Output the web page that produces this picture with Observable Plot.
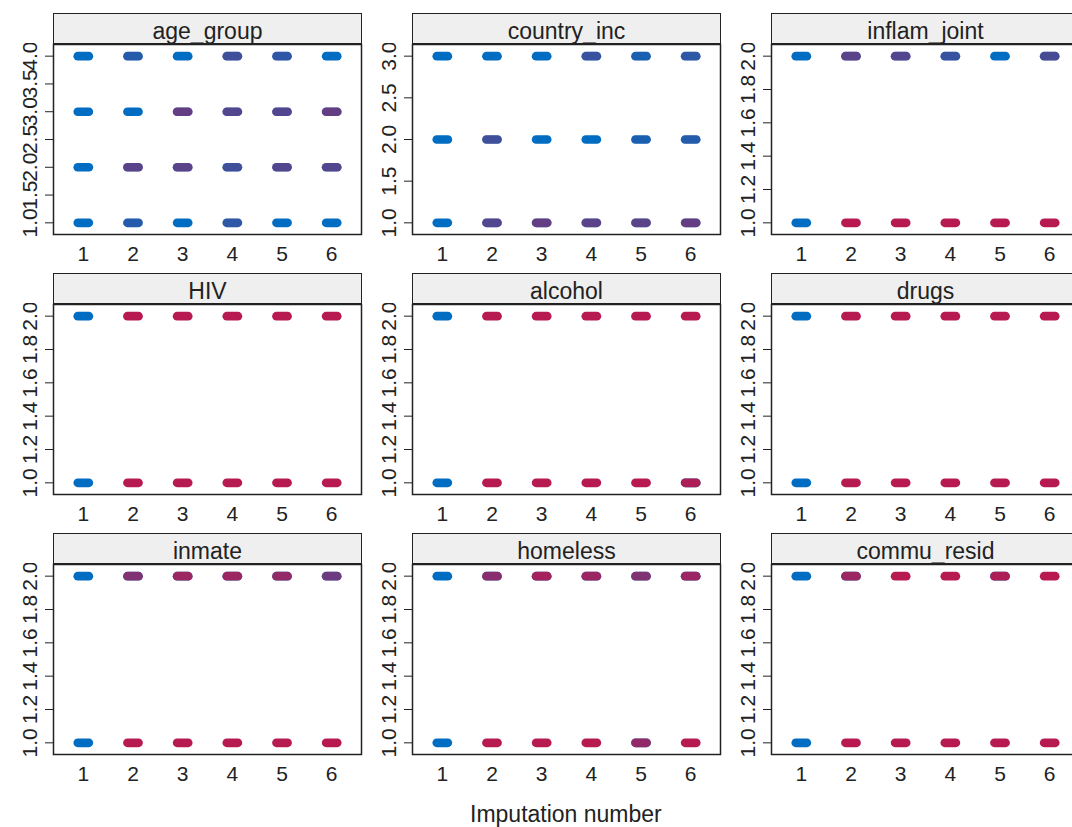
<!DOCTYPE html>
<html>
<head>
<meta charset="utf-8">
<script src="https://cdn.jsdelivr.net/npm/d3@7"></script>
<script src="https://cdn.jsdelivr.net/npm/@observablehq/plot@0.6"></script>
<style>
  html, body { margin: 0; padding: 0; background: #fff; }
  #root { position: relative; width: 1072px; height: 827px; overflow: hidden; font-family: "Liberation Sans", Arial, sans-serif; }
  .strip { position: absolute; box-sizing: border-box; background: #efefef; border: 1.5px solid #222; overflow: hidden; text-align: center; color: #222; font-size: 23px; line-height: 35px; white-space: nowrap; }
  .panel { position: absolute; }
  .panel svg { max-width: none !important; }
  .xtitle { position: absolute; color: #222; font-size: 23px; white-space: nowrap; }
</style>
</head>
<body>
<div id="root"></div>
<script>
// ---- data ----
const variables = ["age_group", "country_inc", "inflam_joint", "HIV", "alcohol", "drugs", "inmate", "homeless", "commu_resid"];
const imputations = [1, 2, 3, 4, 5, 6];

const ageLevels = [1, 2, 3, 4];
const countryLevels = [1, 2, 3];
const binaryLevels = [1, 2];

const ageTicks = [1.0, 1.5, 2.0, 2.5, 3.0, 3.5, 4.0];
const countryTicks = [1.0, 1.5, 2.0, 2.5, 3.0];
const binaryTicks = [1.0, 1.2, 1.4, 1.6, 1.8, 2.0];

// share of imputed (red) points covering each strip, per level (rows) and imputation number (columns)
const ageGroupRed    = [[0, 0.2, 0, 0.25, 0, 0], [0, 0.5, 0.5, 0.35, 0.45, 0.45], [0, 0, 0.55, 0.45, 0.45, 0.55], [0, 0.2, 0, 0.35, 0.25, 0]];
const countryIncRed  = [[0, 0.45, 0.55, 0.5, 0.5, 0.55], [0, 0.35, 0, 0, 0.15, 0.2], [0, 0, 0, 0.3, 0.15, 0.25]];
const inflamJointRed = [[0, 1, 1, 1, 1, 1], [0, 0.5, 0.45, 0.3, 0, 0.4]];
const hivRed         = [[0, 1, 1, 1, 1, 1], [0, 1, 1, 1, 1, 1]];
const alcoholRed     = [[0, 1, 1, 1, 1, 0.95], [0, 1, 1, 1, 1, 1]];
const drugsRed       = [[0, 1, 1, 1, 1, 1], [0, 1, 1, 1, 1, 1]];
const inmateRed      = [[0, 1, 1, 1, 1, 1], [0, 0.7, 0.85, 0.85, 0.8, 0.6]];
const homelessRed    = [[0, 1, 1, 1, 0.8, 1], [0, 0.75, 0.9, 0.85, 0.7, 0.85]];
const communResidRed = [[0, 1, 1, 1, 1, 1], [0, 0.85, 1, 1, 0.95, 1]];

const panelLevels = [ageLevels, countryLevels, binaryLevels, binaryLevels, binaryLevels, binaryLevels, binaryLevels, binaryLevels, binaryLevels];
const panelTicks = [ageTicks, countryTicks, binaryTicks, binaryTicks, binaryTicks, binaryTicks, binaryTicks, binaryTicks, binaryTicks];
const panelRed = [ageGroupRed, countryIncRed, inflamJointRed, hivRed, alcoholRed, drugsRed, inmateRed, homelessRed, communResidRed];

const blue = "#006CC2";
const red = "#B61A51";

// ---- layout ----
const colLeft = [53, 412, 771];
const rowTop = [13, 273, 533];
const panelW = 308, stripH = 30, plotH = 190, mLeft = 53, mBottom = 45;

// pill-shaped symbol (horizontally jittered strip of points)
const pill = {
  draw(ctx, size) {
    const r = Math.sqrt(size / Math.PI);
    const a = r * 1.3;
    ctx.moveTo(-a, -r);
    ctx.lineTo(a, -r);
    ctx.arc(a, 0, r, -Math.PI / 2, Math.PI / 2);
    ctx.lineTo(-a, r);
    ctx.arc(-a, 0, r, Math.PI / 2, 3 * Math.PI / 2);
    ctx.closePath();
  }
};

const root = document.getElementById("root");

variables.forEach((name, i) => {
  const r = Math.floor(i / 3), c = i % 3;
  const left = colLeft[c], top = rowTop[r];
  const levels = panelLevels[i];
  const ticks = panelTicks[i];
  const reds = panelRed[i];
  const lo = d3.min(levels), hi = d3.max(levels);
  const pad = (hi - lo) * 0.07;

  const rows = [];
  levels.forEach((lv, li) => {
    imputations.forEach((imp, k) => rows.push({imp, value: lv, share: reds[li][k]}));
  });

  const strip = document.createElement("div");
  strip.className = "strip";
  strip.style.left = left + "px";
  strip.style.top = top + "px";
  strip.style.width = (panelW + 1) + "px";
  strip.style.height = (stripH + 1) + "px";
  strip.textContent = name;
  root.appendChild(strip);

  const W = mLeft + panelW + 2;
  const chart = Plot.plot({
    width: W,
    height: plotH + 1 + mBottom,
    marginLeft: mLeft,
    marginRight: 2,
    marginTop: 1,
    marginBottom: mBottom,
    style: {fontFamily: "Liberation Sans, Arial, sans-serif", color: "#222", background: "transparent", maxWidth: "none"},
    x: {domain: [0.4, 6.6]},
    y: {domain: [lo - pad, hi + pad]},
    marks: [
      Plot.axisX({ticks: imputations, tickFormat: d3.format("d"), tickSize: 0, tickPadding: 12, fontSize: 21, label: null}),
      Plot.axisY({ticks, tickFormat: d3.format(".1f"), tickSize: 8, tickPadding: 9, tickRotate: -90, fontSize: 21, label: null, stroke: "#222"}),
      Plot.dot(rows.filter(d => d.share < 1), {x: "imp", y: "value", r: 4.3, symbol: pill, fill: blue, stroke: "none"}),
      Plot.dot(rows.filter(d => d.share > 0), {x: "imp", y: "value", r: 4.3, symbol: pill, fill: red, fillOpacity: d => d.share, stroke: "none"}),
      Plot.frame({stroke: "#222", strokeWidth: 1.5})
    ]
  });
  const holder = document.createElement("div");
  holder.className = "panel";
  holder.style.left = (left - mLeft) + "px";
  holder.style.top = (top + stripH) + "px";
  holder.style.width = W + "px";
  holder.appendChild(chart);
  root.appendChild(holder);
});

const xt = document.createElement("div");
xt.className = "xtitle";
xt.textContent = "Imputation number";
root.appendChild(xt);
xt.style.left = (566 - xt.offsetWidth / 2) + "px";
xt.style.top = "801px";
</script>
</body>
</html>
